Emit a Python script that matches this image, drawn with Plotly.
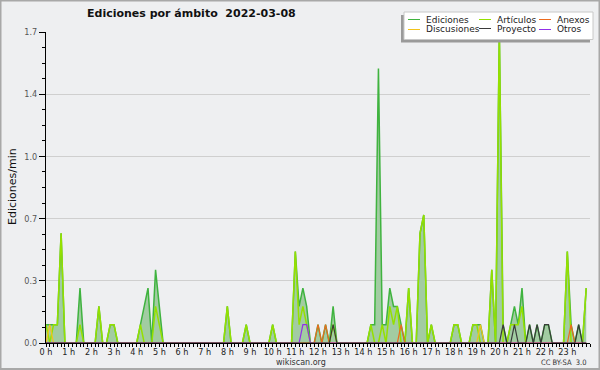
import plotly.graph_objects as go

# ---------------- data (edits per minute, 10-minute samples, 00:00 .. 23:50) ----------------
minutes = list(range(0, 1440, 10))

ediciones = [
    0.1, 0.1, 0.1, 0.1, 0.6, 0, 0, 0, 0, 0.3, 0, 0,          # 00h-01h
    0, 0, 0.2, 0, 0, 0.1, 0.1, 0, 0, 0, 0, 0,                # 02h-03h
    0, 0.1, 0.2, 0.3, 0, 0.4, 0.2, 0, 0, 0, 0, 0,            # 04h-05h
    0, 0, 0, 0, 0, 0, 0, 0, 0, 0, 0, 0,                      # 06h-07h
    0.2, 0, 0, 0, 0, 0.1, 0, 0, 0, 0, 0, 0,                  # 08h-09h
    0.1, 0, 0, 0, 0, 0, 0.5, 0.2, 0.3, 0.2, 0, 0,            # 10h-11h
    0.1, 0, 0.1, 0, 0.2, 0, 0, 0, 0, 0, 0, 0,                # 12h-13h
    0, 0, 0.1, 0.1, 1.5, 0.1, 0.1, 0.3, 0.2, 0.2, 0.1, 0,    # 14h-15h
    0.3, 0, 0, 0.6, 0.7, 0, 0.1, 0, 0, 0, 0, 0,              # 16h-17h
    0.1, 0.1, 0, 0, 0, 0.1, 0.1, 0.1, 0, 0, 0.4, 0,          # 18h-19h
    1.7, 0.1, 0, 0.1, 0.2, 0.1, 0.3, 0, 0.1, 0, 0.1, 0,      # 20h-21h
    0.1, 0.1, 0, 0, 0, 0, 0.5, 0.1, 0, 0.1, 0, 0.3,          # 22h-23h
]
articulos = [
    0.1, 0, 0.1, 0.1, 0.6, 0, 0, 0, 0, 0.1, 0, 0,
    0, 0, 0.2, 0, 0, 0.1, 0.1, 0, 0, 0, 0, 0,
    0, 0.1, 0, 0, 0, 0.2, 0.1, 0, 0, 0, 0, 0,
    0, 0, 0, 0, 0, 0, 0, 0, 0, 0, 0, 0,
    0.2, 0, 0, 0, 0, 0.1, 0, 0, 0, 0, 0, 0,
    0.1, 0, 0, 0, 0, 0, 0.5, 0.1, 0.2, 0.1, 0, 0,
    0, 0, 0, 0, 0.1, 0, 0, 0, 0, 0, 0, 0,
    0, 0, 0.1, 0, 0, 0.1, 0, 0.2, 0.1, 0.2, 0, 0,
    0.3, 0, 0, 0.6, 0.7, 0, 0.1, 0, 0, 0, 0, 0,
    0.1, 0.1, 0, 0, 0, 0.1, 0.1, 0, 0, 0, 0.4, 0,
    1.7, 0, 0, 0.1, 0.1, 0.1, 0.2, 0, 0, 0, 0, 0,
    0, 0, 0, 0, 0, 0, 0.5, 0, 0, 0, 0, 0.3,
]
anexos = [
    0, 0, 0, 0, 0, 0, 0, 0, 0, 0, 0, 0,
    0, 0, 0, 0, 0, 0, 0, 0, 0, 0, 0, 0,
    0, 0, 0, 0, 0, 0, 0, 0, 0, 0, 0, 0,
    0, 0, 0, 0, 0, 0, 0, 0, 0, 0, 0, 0,
    0, 0, 0, 0, 0, 0, 0, 0, 0, 0, 0, 0,
    0, 0, 0, 0, 0, 0, 0, 0, 0, 0, 0, 0,
    0.1, 0, 0.1, 0, 0, 0, 0, 0, 0, 0, 0, 0,
    0, 0, 0, 0, 0, 0, 0, 0, 0, 0, 0.1, 0,
    0, 0, 0, 0, 0, 0, 0, 0, 0, 0, 0, 0,
    0, 0, 0, 0, 0, 0, 0, 0, 0, 0, 0, 0,
    0, 0, 0, 0, 0, 0, 0, 0, 0, 0, 0, 0,
    0, 0, 0, 0, 0, 0, 0, 0.1, 0, 0, 0, 0,
]
discusiones = [
    0, 0.1, 0, 0, 0, 0, 0, 0, 0, 0, 0, 0,
    0, 0, 0, 0, 0, 0, 0, 0, 0, 0, 0, 0,
    0, 0, 0, 0, 0, 0, 0, 0, 0, 0, 0, 0,
    0, 0, 0, 0, 0, 0, 0, 0, 0, 0, 0, 0,
    0, 0, 0, 0, 0, 0, 0, 0, 0, 0, 0, 0,
    0, 0, 0, 0, 0, 0, 0, 0, 0, 0, 0, 0,
    0, 0, 0, 0, 0, 0, 0, 0, 0, 0, 0, 0,
    0, 0, 0, 0, 0, 0, 0, 0, 0, 0, 0, 0,
    0, 0, 0, 0, 0, 0, 0, 0, 0, 0, 0, 0,
    0, 0, 0, 0, 0, 0, 0, 0.1, 0, 0, 0, 0,
    0, 0, 0, 0, 0, 0, 0, 0, 0, 0, 0, 0,
    0, 0, 0, 0, 0, 0, 0, 0, 0, 0, 0, 0,
]
proyecto = [
    0, 0, 0, 0, 0, 0, 0, 0, 0, 0, 0, 0,
    0, 0, 0, 0, 0, 0, 0, 0, 0, 0, 0, 0,
    0, 0, 0, 0, 0, 0, 0, 0, 0, 0, 0, 0,
    0, 0, 0, 0, 0, 0, 0, 0, 0, 0, 0, 0,
    0, 0, 0, 0, 0, 0, 0, 0, 0, 0, 0, 0,
    0, 0, 0, 0, 0, 0, 0, 0, 0, 0, 0, 0,
    0, 0, 0, 0, 0.1, 0, 0, 0, 0, 0, 0, 0,
    0, 0, 0, 0, 0, 0, 0, 0, 0, 0, 0, 0,
    0, 0, 0, 0, 0, 0, 0, 0, 0, 0, 0, 0,
    0, 0, 0, 0, 0, 0, 0, 0, 0, 0, 0, 0,
    0, 0.1, 0, 0, 0.1, 0, 0, 0, 0.1, 0, 0.1, 0,
    0.1, 0.1, 0, 0, 0, 0, 0, 0, 0, 0.1, 0, 0,
]
otros = [
    0, 0, 0, 0, 0, 0, 0, 0, 0, 0, 0, 0,
    0, 0, 0, 0, 0, 0, 0, 0, 0, 0, 0, 0,
    0, 0, 0, 0, 0, 0, 0, 0, 0, 0, 0, 0,
    0, 0, 0, 0, 0, 0, 0, 0, 0, 0, 0, 0,
    0, 0, 0, 0, 0, 0, 0, 0, 0, 0, 0, 0,
    0, 0, 0, 0, 0, 0, 0, 0, 0.1, 0.1, 0, 0,
    0, 0, 0, 0, 0, 0, 0, 0, 0, 0, 0, 0,
    0, 0, 0, 0, 0, 0, 0, 0, 0, 0, 0, 0,
    0, 0, 0, 0, 0, 0, 0, 0, 0, 0, 0, 0,
    0, 0, 0, 0, 0, 0, 0, 0, 0, 0, 0, 0,
    0, 0, 0, 0, 0, 0, 0, 0, 0, 0, 0, 0,
    0, 0, 0, 0, 0, 0, 0, 0, 0, 0, 0, 0,
]

hour_ticks = [0, 60, 120, 180, 240, 300, 360, 420, 480, 540, 600, 660,
              720, 780, 840, 900, 960, 1020, 1080, 1140, 1200, 1260, 1320, 1380]
hour_labels = ["0 h", "1 h", "2 h", "3 h", "4 h", "5 h", "6 h", "7 h", "8 h", "9 h",
               "10 h", "11 h", "12 h", "13 h", "14 h", "15 h", "16 h", "17 h", "18 h",
               "19 h", "20 h", "21 h", "22 h", "23 h"]
y_ticks = [0, 0.34, 0.68, 1.02, 1.36, 1.7]
y_labels = ["0.0", "0.3", "0.7", "1.0", "1.4", "1.7"]

title_text = "Ediciones por ámbito  2022-03-08"
y_title = "Ediciones/min"

# ---------------- styles ----------------
W, H = 600, 370
L, R, T, B = 46, 10, 32, 27
BG = "#eeeff1"
C_ED = "#3fb33f"
C_ED_FILL = "#a2cca2"
C_AR = "#95e000"
C_AN = "#ec6a1e"
C_DI = "#f2c31c"
C_PR = "#3a3a3a"
C_OT = "#9230e8"
NARROW = "Liberation Sans Narrow, DejaVu Sans Condensed, Arial Narrow, sans-serif"
SANS = "DejaVu Sans, Verdana, sans-serif"

pw, ph = W - L - R, H - T - B


def px(x):
    return (x - L) / pw


def py(y):
    return (H - B - y) / ph


fig = go.Figure()
fig.add_trace(go.Scatter(x=minutes, y=ediciones, mode="lines", fill="tozeroy",
                         fillcolor=C_ED_FILL, line=dict(color=C_ED, width=1.5),
                         name="Ediciones", showlegend=False))
fig.add_trace(go.Scatter(x=minutes, y=articulos, mode="lines",
                         line=dict(color=C_AR, width=1.5), name="Artículos", showlegend=False))
fig.add_trace(go.Scatter(x=minutes, y=discusiones, mode="lines",
                         line=dict(color=C_DI, width=1.2), name="Discusiones", showlegend=False))
fig.add_trace(go.Scatter(x=minutes, y=anexos, mode="lines",
                         line=dict(color=C_AN, width=1.2), name="Anexos", showlegend=False))
fig.add_trace(go.Scatter(x=minutes, y=otros, mode="lines",
                         line=dict(color=C_OT, width=1.2), name="Otros", showlegend=False))
fig.add_trace(go.Scatter(x=minutes, y=proyecto, mode="lines",
                         line=dict(color=C_PR, width=1.2), name="Proyecto", showlegend=False))

fig.update_layout(
    width=W, height=H,
    margin=dict(l=L, r=R, t=T, b=B, pad=0),
    paper_bgcolor=BG, plot_bgcolor=BG,
    showlegend=False,
    xaxis=dict(range=[0, 1440], tickmode="array", tickvals=hour_ticks, ticktext=hour_labels,
               ticks="outside", ticklen=3, tickcolor="#000", tickwidth=1,
               ticklabelstandoff=-3,
               showline=True, linecolor="#000", linewidth=1, showgrid=False, zeroline=False,
               tickfont=dict(family=NARROW, size=9, color="#222"), layer="above traces",
               minor=dict(dtick=10, tick0=0, ticks="outside", ticklen=3, tickcolor="#000",
                          showgrid=False)),
    yaxis=dict(range=[0, 1.7], tickmode="array", tickvals=y_ticks, ticktext=y_labels,
               ticks="outside", ticklen=6, tickcolor="#000", tickwidth=1,
               showline=True, linecolor="#000", linewidth=1,
               showgrid=True, gridcolor="#cfcfcf", gridwidth=1, zeroline=False,
               tickfont=dict(family=NARROW, size=9, color="#555"), layer="above traces",
               minor=dict(dtick=0.085, tick0=0, ticks="outside", ticklen=3, tickcolor="#000",
                          showgrid=False)),
)

shapes = []
ann = []

# outer border
shapes.append(dict(type="rect", xref="paper", yref="paper", x0=px(0.5), x1=px(599.5),
                   y0=py(369), y1=py(0.5), line=dict(color="#a8a8a8", width=2), layer="above"))

# legend box with shadow
shapes.append(dict(type="rect", xref="paper", yref="paper", x0=px(401), x1=px(590),
                   y0=py(42.5), y1=py(15), line=dict(width=0), fillcolor="#9a9a9a", layer="above"))
shapes.append(dict(type="rect", xref="paper", yref="paper", x0=px(404), x1=px(593),
                   y0=py(39.5), y1=py(12), line=dict(color="#c8c8c8", width=1),
                   fillcolor="#ffffff", layer="above"))

legend_items = [
    ("Ediciones", C_ED, 408, 424, 19.5),
    ("Artículos", C_AR, 479, 495, 19.5),
    ("Anexos", C_AN, 539, 555, 19.5),
    ("Discusiones", C_DI, 408, 424, 29.5),
    ("Proyecto", C_PR, 479, 495, 28.5),
    ("Otros", C_OT, 539, 555, 29.5),
]
for name, col, sx, tx, yy in legend_items:
    shapes.append(dict(type="line", xref="paper", yref="paper", x0=px(sx), x1=px(sx + 12),
                       y0=py(yy), y1=py(yy), line=dict(color=col, width=1), layer="above"))
    ann.append(dict(text=name, xref="paper", yref="paper", x=px(tx), y=py(yy),
                    xanchor="left", yanchor="middle", showarrow=False,
                    font=dict(family=SANS, size=9, color="#222")))

# title
ann.append(dict(text="<b>" + title_text + "</b>", xref="paper", yref="paper",
                x=px(85), y=py(14), xanchor="left", yanchor="middle", showarrow=False,
                font=dict(family=SANS, size=11, color="#111")))
# y title
ann.append(dict(text=y_title, xref="paper", yref="paper", x=px(12), y=py(187),
                xanchor="center", yanchor="middle", showarrow=False, textangle=-90,
                font=dict(family=SANS, size=11, color="#111")))
# footer
ann.append(dict(text="wikiscan.org", xref="paper", yref="paper", x=px(300.5), y=py(362),
                xanchor="center", yanchor="middle", showarrow=False,
                font=dict(family=SANS, size=8, color="#333")))
ann.append(dict(text="CC BY-SA  3.0", xref="paper", yref="paper", x=px(589), y=py(362.5),
                xanchor="right", yanchor="middle", showarrow=False,
                font=dict(family=NARROW, size=7.5, color="#333")))

fig.update_layout(shapes=shapes, annotations=ann)
fig.write_html("out.html", config={"displayModeBar": False},
               post_script="document.body.style.margin='0';document.body.style.padding='0';")
